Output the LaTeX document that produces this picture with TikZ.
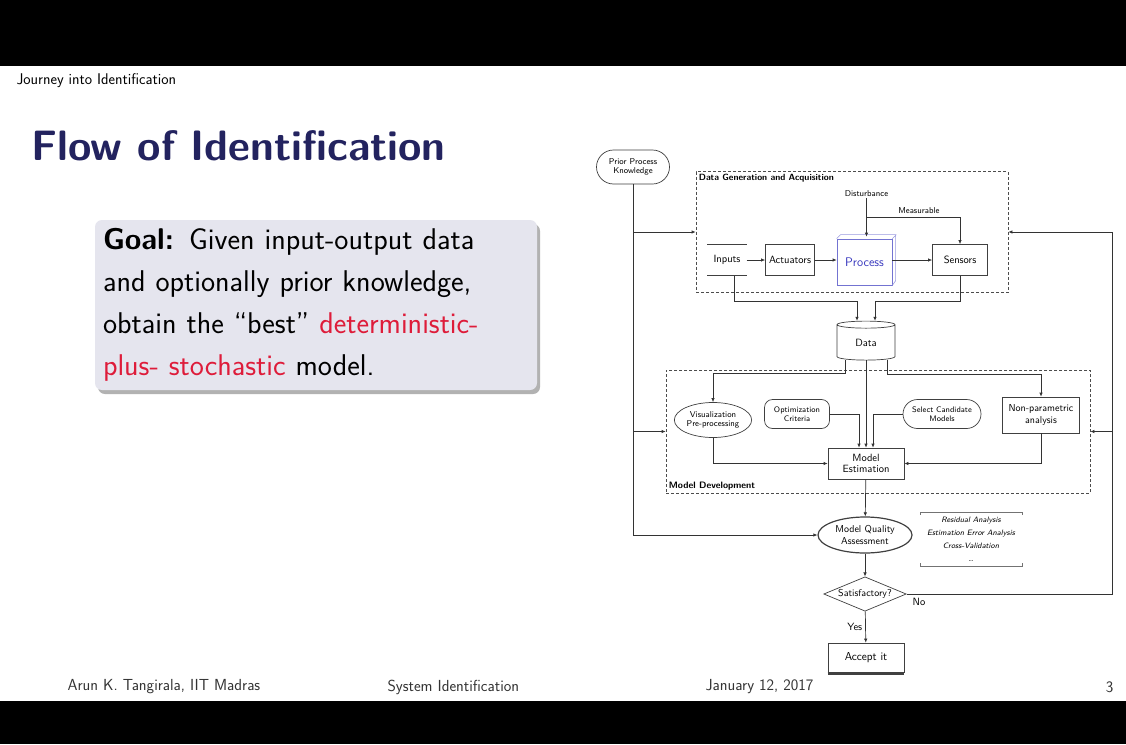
\documentclass[tikz,border=0pt]{standalone}
\usepackage{tikz}
\usetikzlibrary{shapes.geometric,shapes.misc,arrows.meta,calc,shadows}
\definecolor{titleblue}{RGB}{35,35,95}
\definecolor{alertred}{RGB}{222,28,58}
\definecolor{goalfill}{RGB}{229,229,238}
\definecolor{procblue}{RGB}{55,55,190}

\begin{document}
\begin{tikzpicture}[x=1pt,y=-1pt]
% slide frame, one unit per pixel
\useasboundingbox (0,0) rectangle (1126,744);
\fill[white] (0,0) rectangle (1126,744);
\fill[black] (0,0) rectangle (1126,66);
\fill[black] (0,701) rectangle (1126,744);

% node style definition
\def\lw{0.7pt}
\tikzstyle{txt} = [font=\sffamily\fontsize{8.5}{9.5}\selectfont, align=center, inner sep=1pt];
\tikzstyle{mid} = [font=\sffamily\fontsize{10.5}{11.5}\selectfont, align=center, inner sep=1pt];
\tikzstyle{block} = [draw=black!75, line width=\lw, rectangle];
\tikzstyle{rbox} = [block, rounded corners=8pt];
\tikzstyle{stadium} = [draw=black!75, line width=\lw, rounded rectangle];
\tikzstyle{oval} = [draw=black!75, line width=\lw, ellipse];
\tikzstyle{decision} = [draw=black!75, line width=\lw, diamond, aspect=2.4, inner xsep=-6pt, inner ysep=0pt,
	minimum width=76, minimum height=32];
\tikzstyle{datastore} = [draw=black!75, line width=\lw, cylinder, shape border rotate=90,
	shape aspect=0.3, minimum width=58, minimum height=39];
\tikzstyle{dashbox} = [draw=black!70, line width=\lw, dash pattern=on 3pt off 2pt, rectangle];
\tikzstyle{heading} = [font=\sffamily\bfseries\fontsize{9}{10}\selectfont, inner sep=3pt];
\tikzstyle{arr} = [draw=black!80, line width=\lw, -{Latex[length=4pt,width=3.5pt]}];
\tikzstyle{foot} = [anchor=west, font=\sffamily\fontsize{16}{18}\selectfont, text=black!80];
\tikzstyle{goalbox} = [rounded corners=7pt, fill=goalfill, minimum width=442, minimum height=170,
	text width=426, inner sep=8pt, align=left, font=\sffamily\fontsize{30}{42}\selectfont,
	drop shadow={shadow xshift=3pt, shadow yshift=-4pt, fill=black!60, opacity=0.5}];

% slide text
\node[anchor=west, font=\sffamily\fontsize{15.5}{17}\selectfont] (hdr) at (13,81) {Journey into Identification};
\node[anchor=west, text=titleblue, font=\sffamily\bfseries\fontsize{42.5}{48}\selectfont] (ttl) at (28,146) {Flow of Identification};
\node[goalbox] (goal) at (316,305) {\textbf{Goal:} Given input-output data\\
	and optionally prior knowledge,\\
	obtain the “best” \textcolor{alertred}{deterministic-}\\
	\textcolor{alertred}{plus- stochastic} model.};

\node[foot] (auth) at (64,687) {Arun K. Tangirala, IIT Madras};
\node[foot] (course) at (384,687) {System Identification};
\node[foot] (date) at (702,687) {January 12, 2017};
\node[foot, anchor=east] (page) at (1117,687) {3};

% data generation part
\node[stadium, txt, minimum width=75, minimum height=34] (prior) at (633,167) {Prior Process\\Knowledge};
\node[dashbox, minimum width=312, minimum height=121] (dga) at (852,232) {};
\node[heading, anchor=north west] at (dga.north west) {Data Generation and Acquisition};
\node[txt] (dist) at (866.5,194) {Disturbance};
\node[mid, minimum width=39, minimum height=31] (inp) at (727,260) {Inputs};
\draw[draw=black!75, line width=\lw] (inp.north west) -- (inp.north east) (inp.south west) -- (inp.south east);
\node[block, mid, minimum width=49, minimum height=31] (act) at (790,260) {Actuators};
\node[block, draw=procblue!70, minimum width=55, minimum height=46, text=procblue,
	font=\sffamily\fontsize{12.5}{14}\selectfont] (proc) at (864.5,262) {Process};
\draw[procblue!50, line width=0.6pt] (proc.north west) -- ++(4,-4) -- ++(55,0) -- ++(0,46) -- (proc.south east)
	(proc.north east) -- ++(4,-4);
\node[block, mid, minimum width=55, minimum height=31] (sens) at (960,260) {Sensors};
\node[datastore, mid] (data) at (866,343) {Data};

% model development part
\node[dashbox, minimum width=424, minimum height=123] (mdev) at (878,431.5) {};
\node[heading, anchor=south west, font=\sffamily\bfseries\fontsize{9.3}{10}\selectfont] at (mdev.south west) {Model Development};
\node[oval, txt, minimum width=77, minimum height=35] (vis) at (713,420) {Visualization\\Pre-processing};
\node[rbox, txt, font=\sffamily\fontsize{8}{9}\selectfont, minimum width=65, minimum height=29] (opt) at (797,414) {Optimization\\Criteria};
\node[stadium, txt, font=\sffamily\fontsize{8}{9}\selectfont, minimum width=80, minimum height=29] (sel) at (942,414) {Select Candidate\\Models};
\node[block, mid, font=\sffamily\fontsize{10}{11.5}\selectfont, minimum width=77, minimum height=36] (npa) at (1041,415) {Non-parametric\\analysis};
\node[block, mid, minimum width=76, minimum height=31] (est) at (866,463.5) {Model\\Estimation};

% assessment part
\node[oval, mid, font=\sffamily\fontsize{10}{11.5}\selectfont, line width=1.2pt, minimum width=94, minimum height=36] (mqa) at (865,535) {Model Quality\\Assessment};
\node[txt, font=\sffamily\itshape\fontsize{7.8}{13}\selectfont, minimum width=102, minimum height=54] (chk) at (971,539)
	{Residual Analysis\\Estimation Error Analysis\\Cross-Validation\\\dots};
\draw[black!55] ([yshift=-3pt]chk.north west) -- (chk.north west) -- (chk.north east) -- ([yshift=-3pt]chk.north east);
\draw[black!55] ([yshift=3pt]chk.south west) -- (chk.south west) -- (chk.south east) -- ([yshift=3pt]chk.south east);
\node[decision, mid, font=\sffamily\fontsize{10}{11}\selectfont] (sat) at (865,594) {Satisfactory?};
\node[block, mid, font=\sffamily\fontsize{11.5}{13}\selectfont, minimum width=76, minimum height=29] (acc) at (866,657.5) {Accept it};
\draw[black!75, line width=2.5pt] ([yshift=-1pt]acc.south west) -- ([yshift=-1pt]acc.south east);
\coordinate (loop) at (1112,232);
\coordinate (meas) at (dist.south |- 0,217);

% connectors
\draw[arr] (prior.south) |- (mqa.west);
\draw[arr] (prior.south |- dga.west) -- (dga.west);
\draw[arr] (prior.south |- mdev.west) -- (mdev.west);
\draw[arr] (dist.south) -- ([yshift=2pt]proc.north -| dist.south);
\draw[arr] (meas) -| node[txt, pos=0.28, above=2pt] {Measurable} (sens.north);
\draw[arr] (inp) -- (act);
\draw[arr] (act.east) -- (act.east -| proc.west);
\draw[arr] (sens.west -| proc.east) -- (sens.west);
\draw[arr] ([xshift=7pt]inp.south) -- ++(0,26) -| ([xshift=-9pt]data.north);
\draw[arr] (sens.south) -- ++(0,25) -| ([xshift=9pt]data.north);
\draw[arr] ([xshift=-21pt]data.south) -- ++(0,13) -| (vis.north);
\draw[arr] (data.south) -- (est.north);
\draw[arr] ([xshift=21pt]data.south) -- ++(0,14) -| (npa.north);
\draw[arr] (opt.east) -| ([xshift=-7pt]est.north);
\draw[arr] (sel.west) -| ([xshift=7pt]est.north);
\draw[arr] (vis.south) |- (est.west);
\draw[arr] (npa.south) |- (est.east);
\draw[arr] (est) -- (mqa);
\draw[arr] (mqa) -- (sat);
\draw[arr] (sat) -- node[mid, left=2pt] {Yes} (acc);
\draw[arr] (sat.east) -| node[mid, pos=0.03, below=3pt] {No} (loop) -- (dga.east);
\draw[arr] (loop |- mdev.east) -- (mdev.east);

\end{tikzpicture}
\end{document}
